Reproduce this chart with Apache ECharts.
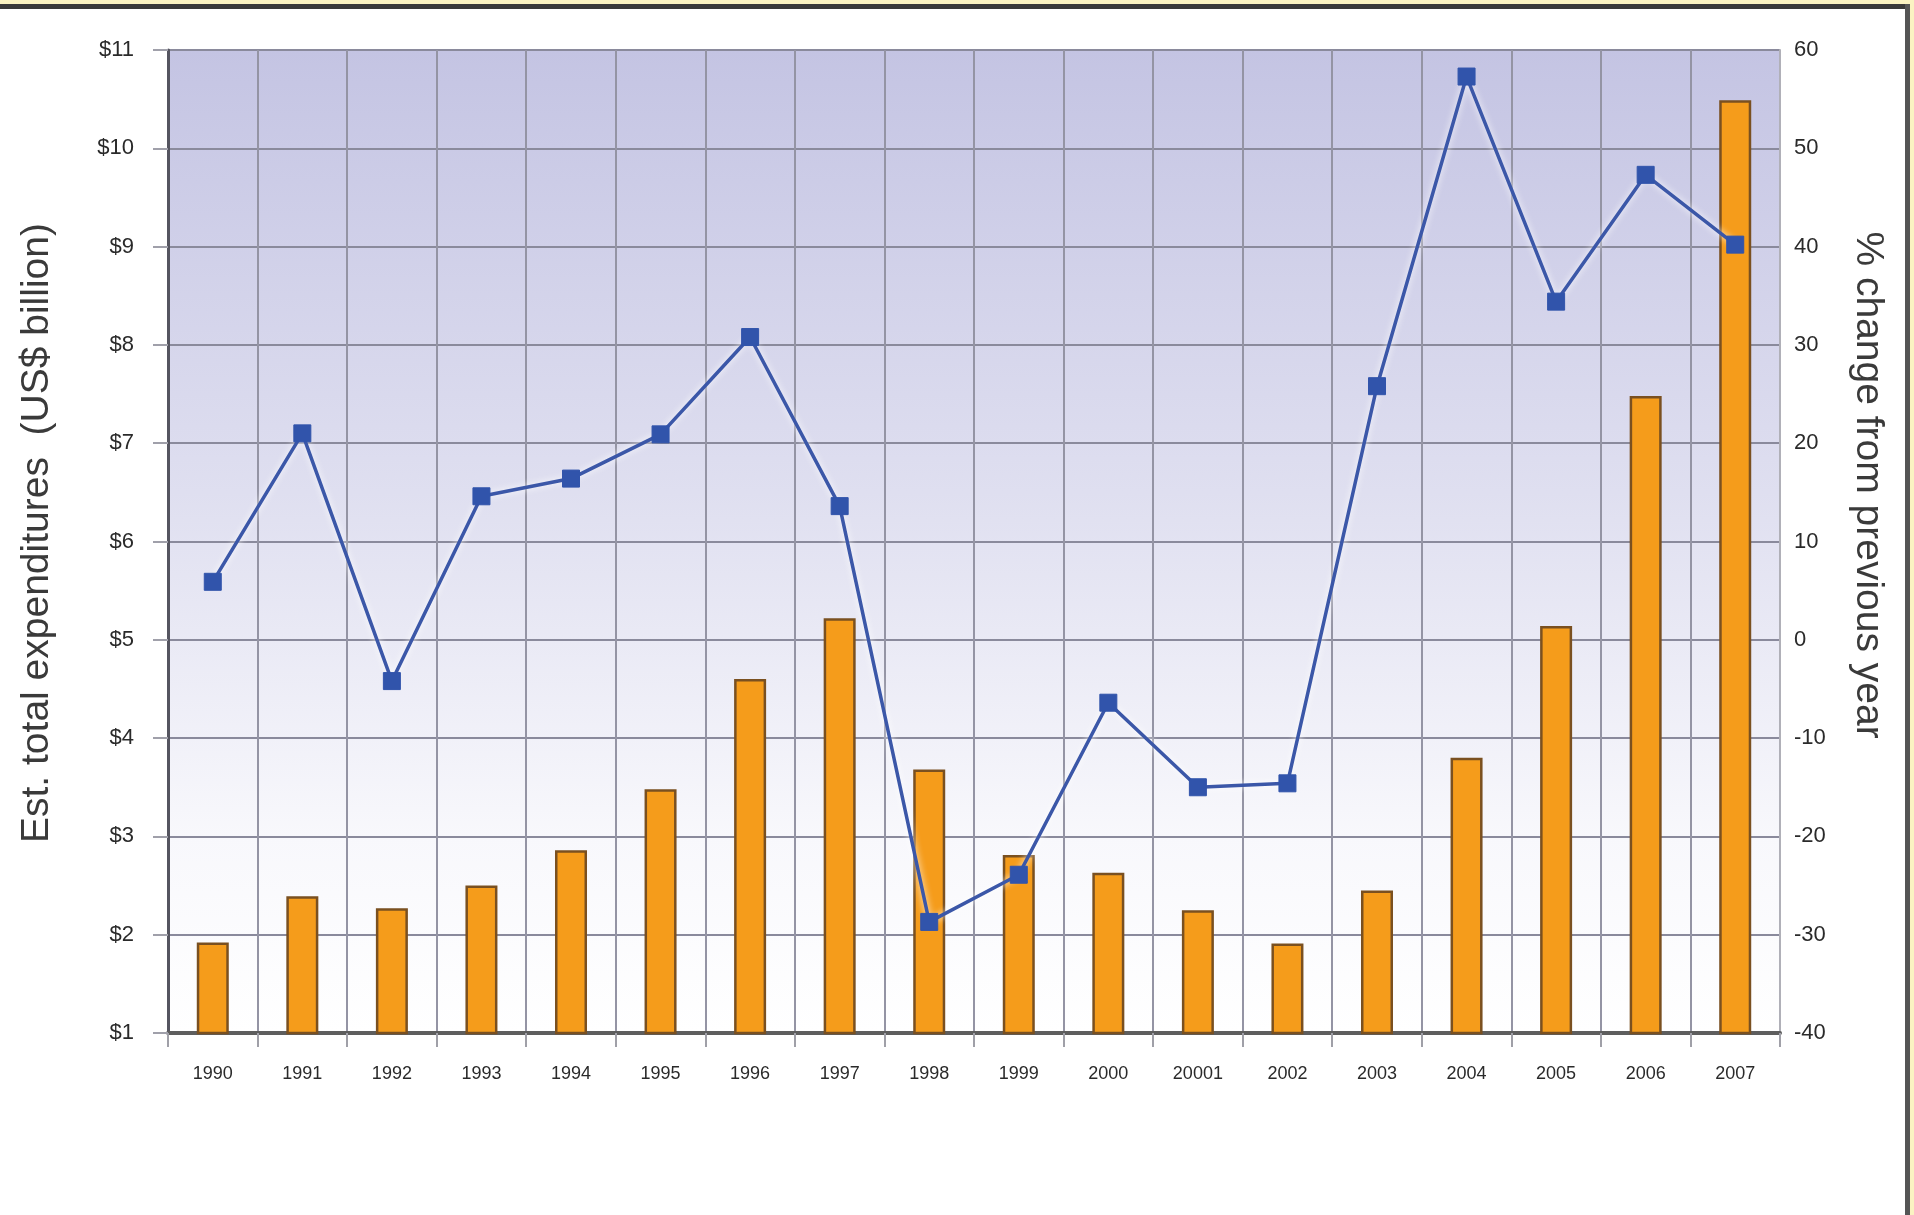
<!DOCTYPE html>
<html>
<head>
<meta charset="utf-8">
<script src="https://cdn.jsdelivr.net/npm/echarts@6/dist/echarts.min.js"></script>
<style>
html,body{margin:0;padding:0;background:#fff;}
#chart{width:1914px;height:1215px;}
</style>
</head>
<body>
<div id="chart"></div>
<script>
const years = ['1990','1991','1992','1993','1994','1995','1996','1997','1998','1999','2000','20001','2002','2003','2004','2005','2006','2007'];
const expenditures = [1.92,2.39,2.27,2.50,2.86,3.48,4.60,5.22,3.68,2.81,2.63,2.25,1.91,2.45,3.80,5.14,7.48,10.49];
const pctChange = [5.9,21.0,-4.2,14.6,16.4,20.9,30.8,13.6,-28.7,-23.9,-6.4,-15.0,-14.6,25.8,57.3,34.4,47.3,40.2];
const leftTicks = {min:1, max:11, interval:1};
const rightTicks = {min:-40, max:60, interval:10};
const leftTitle = 'Est. total expenditures  (US$ billion)';
const rightTitle = '% change from previous year';

const FONT = '"Liberation Sans Narrow","Liberation Sans",Arial,sans-serif';
const chart = echarts.init(document.getElementById('chart'));
chart.setOption({
  animation:false,
  backgroundColor:'#ffffff',
  graphic:[
    {type:'rect', shape:{x:0,y:0,width:1914,height:4}, style:{fill:'#fbf3c2'}},
    {type:'rect', shape:{x:0,y:4,width:1910,height:5}, style:{fill:'#3a3a3a'}},
    {type:'rect', shape:{x:1905,y:4,width:5,height:1211}, style:{fill:'#555555'}},
    {type:'rect', shape:{x:1910,y:0,width:4,height:1215}, style:{fill:'#fbf3c2'}},
    {type:'text', x:37, y:533, rotation:Math.PI/2,
      style:{text:leftTitle, fontFamily:FONT, fontSize:39, fill:'#3a3a3a', align:'center', verticalAlign:'middle'}},
    {type:'text', x:1868, y:485, rotation:-Math.PI/2,
      style:{text:rightTitle, fontFamily:FONT, fontSize:39, fill:'#3a3a3a', align:'center', verticalAlign:'middle'}}
  ],
  grid:{
    left:168, right:134, top:50, bottom:182,
    show:true, borderWidth:0,
    backgroundColor:{type:'linear',x:0,y:0,x2:0,y2:1,colorStops:[
      {offset:0,color:'#c4c4e3'},
      {offset:0.45,color:'#dfdff0'},
      {offset:0.8,color:'#f8f8fc'},
      {offset:1,color:'#ffffff'}
    ]}
  },
  xAxis:{
    type:'category', data:years, boundaryGap:true,
    axisLine:{show:true, onZero:false, lineStyle:{color:'#5e5e5e', width:4}},
    axisTick:{show:true, interval:0, length:14, lineStyle:{color:'#a0a0a8', width:2}},
    splitLine:{show:true, interval:0, lineStyle:{color:'#9494a4', width:2}},
    axisLabel:{interval:0, margin:32, fontFamily:FONT, fontSize:18, color:'#2a2a2a'}
  },
  yAxis:[
    {
      type:'value', position:'left', min:leftTicks.min, max:leftTicks.max, interval:leftTicks.interval,
      axisLine:{show:true, onZero:false, lineStyle:{color:'#555560', width:3}},
      axisTick:{show:true, length:15, lineStyle:{color:'#a0a0aa', width:2}},
      splitLine:{show:true, lineStyle:{color:'#8a8a9c', width:2}},
      axisLabel:{margin:34, fontFamily:FONT, fontSize:22, color:'#2a2a2a', formatter:v=>'$'+v}
    },
    {
      type:'value', position:'right', min:rightTicks.min, max:rightTicks.max, interval:rightTicks.interval,
      axisLine:{show:true, onZero:false, lineStyle:{color:'#b0b0b8', width:2}},
      axisTick:{show:false},
      splitLine:{show:false},
      axisLabel:{margin:14, fontFamily:FONT, fontSize:22, color:'#2a2a2a'}
    }
  ],
  series:[
    {
      type:'bar', yAxisIndex:0, data:expenditures, barWidth:32,
      itemStyle:{color:'#f59c1b', borderColor:'#7a5020', borderWidth:2.5},
      z:2
    },
    {
      type:'line', yAxisIndex:1, data:pctChange,
      symbol:'rect', symbolSize:17,
      lineStyle:{color:'#3b57a8', width:3.5, shadowColor:'rgba(255,255,255,0.95)', shadowBlur:7},
      itemStyle:{color:'#3154ab', borderColor:'#3154ab'},
      z:3
    }
  ]
});
</script>
</body>
</html>
